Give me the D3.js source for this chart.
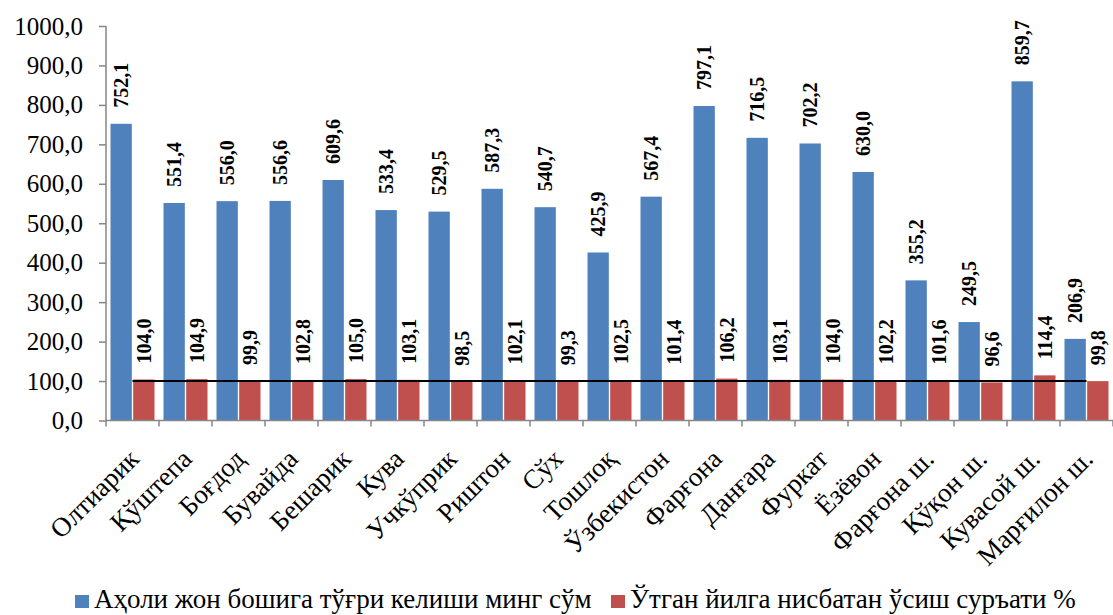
<!DOCTYPE html>
<html>
<head>
<meta charset="utf-8">
<script src="https://cdn.jsdelivr.net/npm/d3@7"></script>
<style>
  html, body { margin: 0; padding: 0; background: #fff; }
  svg { display: block; }
  text { font-family: "Liberation Serif", "Times New Roman", serif; fill: #000; }
</style>
</head>
<body>
<svg id="chart" width="1113" height="615"></svg>
<script>
const categories = ["Олтиарик", "Қўштепа", "Боғдод", "Бувайда", "Бешарик", "Кува", "Учкўприк", "Риштон", "Сўх", "Тошлоқ", "Ўзбекистон", "Фарғона", "Данғара", "Фуркат", "Ёзёвон", "Фарғона ш.", "Қўқон ш.", "Кувасой ш.", "Марғилон ш."];
const perCapita = [752.1, 551.4, 556.0, 556.6, 609.6, 533.4, 529.5, 587.3, 540.7, 425.9, 567.4, 797.1, 716.5, 702.2, 630.0, 355.2, 249.5, 859.7, 206.9];
const growth = [104.0, 104.9, 99.9, 102.8, 105.0, 103.1, 98.5, 102.1, 99.3, 102.5, 101.4, 106.2, 103.1, 104.0, 102.2, 101.6, 96.6, 114.4, 99.8];
const seriesNames = ["Аҳоли жон бошига тўғри келиши минг сўм", "Ўтган йилга нисбатан ўсиш суръати %"];
const yTicks = [0, 100, 200, 300, 400, 500, 600, 700, 800, 900, 1000];
const baseline = 100;

(function () {
const colors = ["#4F81BD", "#C0504D"];
const svg = d3.select("#chart");
const pLeft = 106, pRight = 1113, pTop = 26, pBottom = 420.5;

const x = d3.scaleBand().domain(categories).range([pLeft, pRight]).paddingInner(0).paddingOuter(0);
const x1 = d3.scaleBand().domain([0, 1]).range([4.5, x.bandwidth() - 4.5]).paddingInner(0.06);
const y = d3.scaleLinear().domain([0, 1000]).range([pBottom, pTop]);
const fmt = v => d3.format(".1f")(v).replace(".", ",");

const rows = categories.map((c, i) => ({ c, vals: [perCapita[i], growth[i]] }));

// bars
const g = svg.append("g");
rows.forEach(r => {
  r.vals.forEach((v, s) => {
    g.append("rect")
      .attr("x", x(r.c) + x1(s))
      .attr("y", y(v))
      .attr("width", x1.bandwidth())
      .attr("height", y(0) - y(v))
      .attr("fill", colors[s]);
  });
});

// reference line at 100
svg.append("line")
  .attr("x1", x(categories[0]) + x.bandwidth() / 2)
  .attr("x2", x(categories[categories.length - 1]) + x.bandwidth() / 2)
  .attr("y1", y(baseline)).attr("y2", y(baseline))
  .attr("stroke", "#000").attr("stroke-width", 2);

// data labels
rows.forEach(r => {
  r.vals.forEach((v, s) => {
    const cx = x(r.c) + x1(s) + x1.bandwidth() / 2;
    const ty = y(v) - 16;
    svg.append("text")
      .attr("transform", `translate(${cx + 7},${ty}) rotate(-90)`)
      .attr("text-anchor", "start")
      .attr("font-size", 20)
      .attr("font-weight", "bold")
      .text(fmt(v));
  });
});

// y axis
const yAxis = d3.axisLeft(y).tickValues(yTicks).tickSize(7).tickPadding(16).tickFormat(fmt);
const ya = svg.append("g").attr("transform", `translate(${pLeft},0)`).call(yAxis);
ya.select(".domain").remove();
ya.selectAll("line").attr("stroke", "#868686").attr("stroke-width", 1.5);
ya.selectAll("text").attr("font-size", 25).attr("font-family", "Liberation Serif").attr("fill", "#000");
svg.append("line").attr("x1", pLeft).attr("x2", pLeft).attr("y1", pTop).attr("y2", pBottom)
  .attr("stroke", "#868686").attr("stroke-width", 1.5);

// x axis
const xa = svg.append("g").attr("transform", `translate(0,${pBottom})`);
xa.append("line").attr("x1", pLeft).attr("x2", pRight).attr("stroke", "#868686").attr("stroke-width", 1.5);
const xt = categories.map((c, i) => pLeft + i * x.step()).concat([pRight]);
xt.forEach(t => xa.append("line").attr("x1", t).attr("x2", t).attr("y1", 0).attr("y2", 6)
  .attr("stroke", "#868686").attr("stroke-width", 1.5));
categories.forEach(c => {
  const cx = x(c) + x.bandwidth() / 2;
  xa.append("text")
    .attr("transform", `translate(${cx + 8},${40}) rotate(-45)`)
    .attr("text-anchor", "end")
    .attr("font-size", 27)
    .text(c);
});

// legend
const legendItems = [{ x: 75, name: seriesNames[0], color: colors[0] }, { x: 611, name: seriesNames[1], color: colors[1] }];
legendItems.forEach(li => {
  svg.append("rect").attr("x", li.x).attr("y", 595).attr("width", 14).attr("height", 13).attr("fill", li.color);
  svg.append("text").attr("x", li.x + 19).attr("y", 608).attr("font-size", 27).text(li.name);
});
})();
</script>
</body>
</html>
